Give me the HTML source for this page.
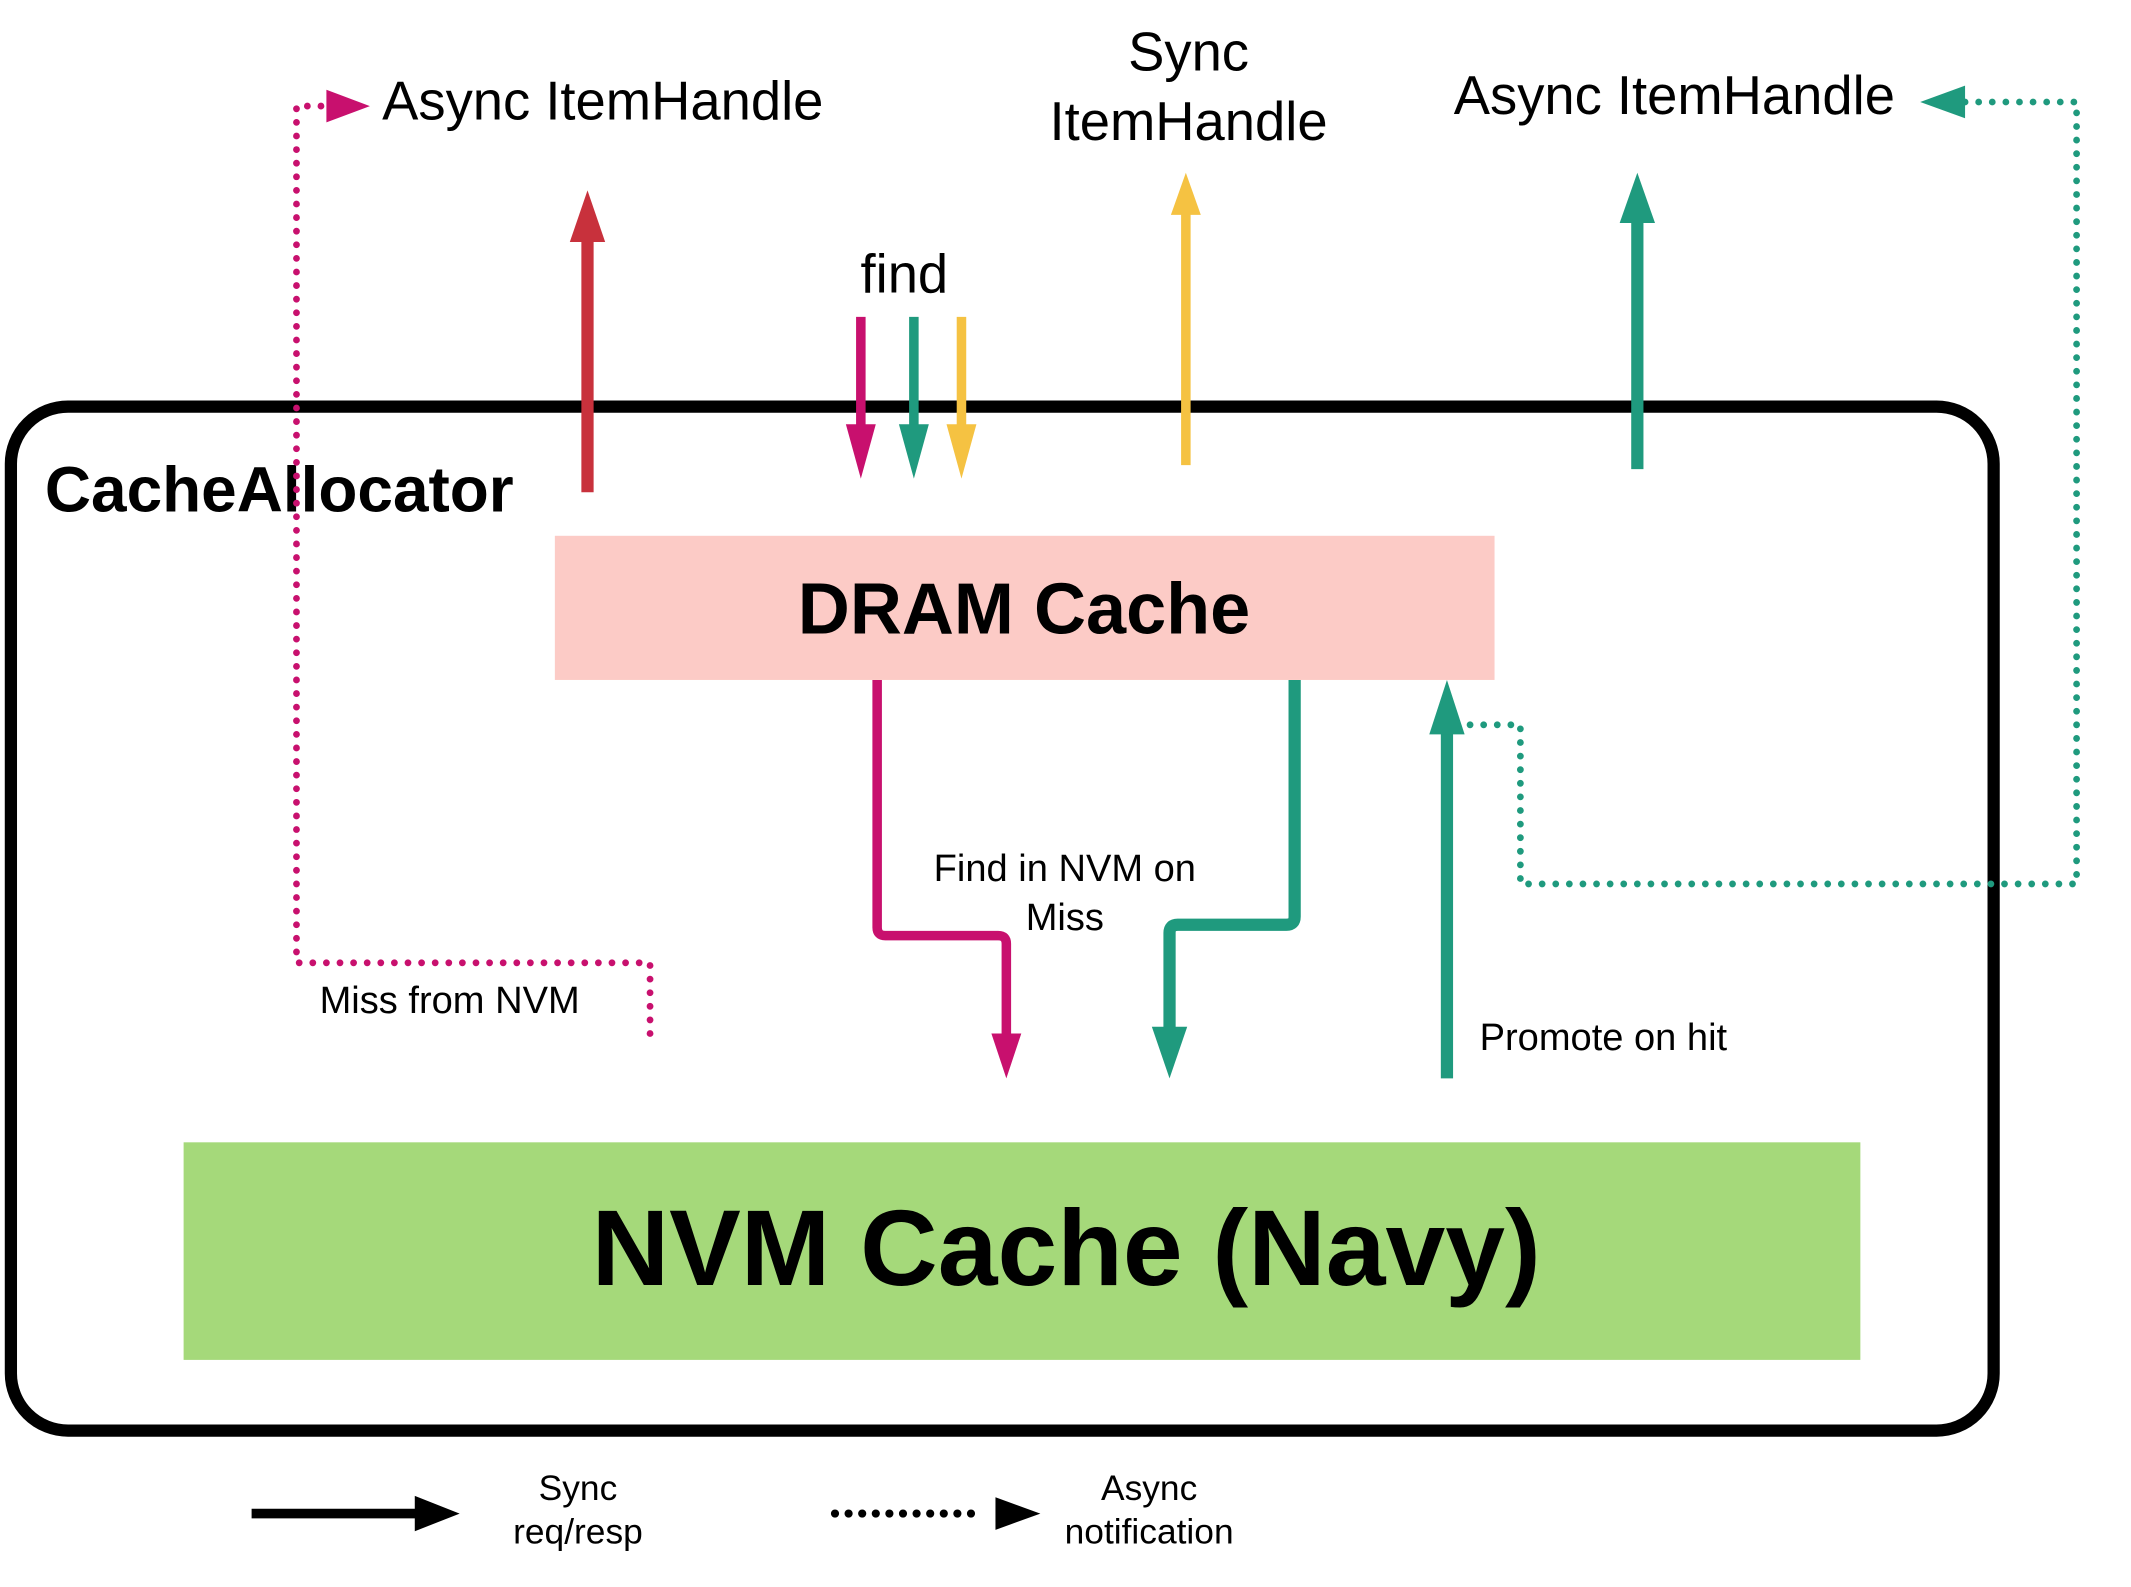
<!DOCTYPE html>
<html><head><meta charset="utf-8"><style>
html,body{margin:0;padding:0;background:#fff;}
svg{display:block;}
text{font-family:"Liberation Sans",sans-serif;fill:#000;}
</style></head><body>
<svg width="2131" height="1587" viewBox="0 0 1567 1167" xmlns="http://www.w3.org/2000/svg">
<rect x="0" y="0" width="1567" height="1167" fill="#fff"/>
<!-- outer box -->
<rect x="8" y="299" width="1458" height="753" rx="42" ry="42" fill="none" stroke="#000" stroke-width="9"/>
<text x="33" y="376" font-size="47" font-weight="bold">CacheAllocator</text>
<!-- DRAM -->
<rect x="408" y="394" width="691" height="106" fill="#fccbc6"/>
<text x="753" y="466" font-size="53" font-weight="bold" text-anchor="middle">DRAM Cache</text>
<!-- NVM -->
<rect x="135" y="840" width="1233" height="160" fill="#a5d97a"/>
<text x="784" y="945" font-size="79" font-weight="bold" text-anchor="middle">NVM Cache (Navy)</text>

<!-- magenta dotted async -->
<path d="M478 760 L478 708 L218 708 L218 78 L240 78" fill="none" stroke="#c8106e" stroke-width="5" stroke-dasharray="0 10" stroke-linecap="round"/>
<polygon points="240,66 272,78 240,90" fill="#c8106e"/>

<!-- red arrow -->
<line x1="432" y1="362" x2="432" y2="175" stroke="#c8313c" stroke-width="9"/>
<polygon points="419,178 432,140 445,178" fill="#c8313c"/>

<!-- find arrows -->
<text x="665" y="215" font-size="40" text-anchor="middle">find</text>
<line x1="633" y1="233" x2="633" y2="315" stroke="#c8106e" stroke-width="7"/>
<polygon points="622,312 633,352 644,312" fill="#c8106e"/>
<line x1="672" y1="233" x2="672" y2="315" stroke="#1f9a7e" stroke-width="7"/>
<polygon points="661,312 672,352 683,312" fill="#1f9a7e"/>
<line x1="707" y1="233" x2="707" y2="315" stroke="#f5c242" stroke-width="7"/>
<polygon points="696,312 707,352 718,312" fill="#f5c242"/>

<!-- yellow up -->
<line x1="872" y1="342" x2="872" y2="155" stroke="#f5c242" stroke-width="7"/>
<polygon points="861,158 872,127 883,158" fill="#f5c242"/>
<!-- green up -->
<line x1="1204" y1="345" x2="1204" y2="160" stroke="#1f9a7e" stroke-width="9"/>
<polygon points="1191,164 1204,127 1217,164" fill="#1f9a7e"/>

<text x="874" y="52" font-size="40" text-anchor="middle">Sync</text>
<text x="874" y="103" font-size="40" text-anchor="middle">ItemHandle</text>
<text x="281" y="88" font-size="40">Async ItemHandle</text>
<text x="1069" y="84" font-size="40">Async ItemHandle</text>

<!-- green dotted async -->
<path d="M1445 75 L1527 75 L1527 650 L1118 650 L1118 533 L1080 533" fill="none" stroke="#1f9a7e" stroke-width="5" stroke-dasharray="0 10" stroke-linecap="round"/>
<polygon points="1445,63 1412,75 1445,87" fill="#1f9a7e"/>

<!-- magenta solid down -->
<path d="M645 500 L645 682 Q645 688 651 688 L734 688 Q740 688 740 694 L740 765" fill="none" stroke="#c8106e" stroke-width="7"/>
<polygon points="729,760 740,793 751,760" fill="#c8106e"/>
<!-- green solid down -->
<path d="M952 500 L952 674 Q952 680 946 680 L866 680 Q860 680 860 686 L860 760" fill="none" stroke="#1f9a7e" stroke-width="9"/>
<polygon points="847,755 860,793 873,755" fill="#1f9a7e"/>
<!-- promote up -->
<line x1="1064" y1="793" x2="1064" y2="535" stroke="#1f9a7e" stroke-width="9"/>
<polygon points="1051,540 1064,500 1077,540" fill="#1f9a7e"/>

<text x="783" y="648" font-size="28" text-anchor="middle">Find in NVM on</text>
<text x="783" y="684" font-size="28" text-anchor="middle">Miss</text>
<text x="235" y="745" font-size="28">Miss from NVM</text>
<text x="1088" y="772" font-size="28">Promote on hit</text>

<!-- legend -->
<line x1="185" y1="1113" x2="308" y2="1113" stroke="#000" stroke-width="7"/>
<polygon points="305,1100 338,1113 305,1126" fill="#000"/>
<text x="425" y="1103" font-size="26" text-anchor="middle">Sync</text>
<text x="425" y="1135" font-size="26" text-anchor="middle">req/resp</text>
<path d="M614 1113 L722 1113" fill="none" stroke="#000" stroke-width="6" stroke-dasharray="0 10" stroke-linecap="round"/>
<polygon points="732,1101 765,1113 732,1125" fill="#000"/>
<text x="845" y="1103" font-size="26" text-anchor="middle">Async</text>
<text x="845" y="1135" font-size="26" text-anchor="middle">notification</text>
</svg>
</body></html>
